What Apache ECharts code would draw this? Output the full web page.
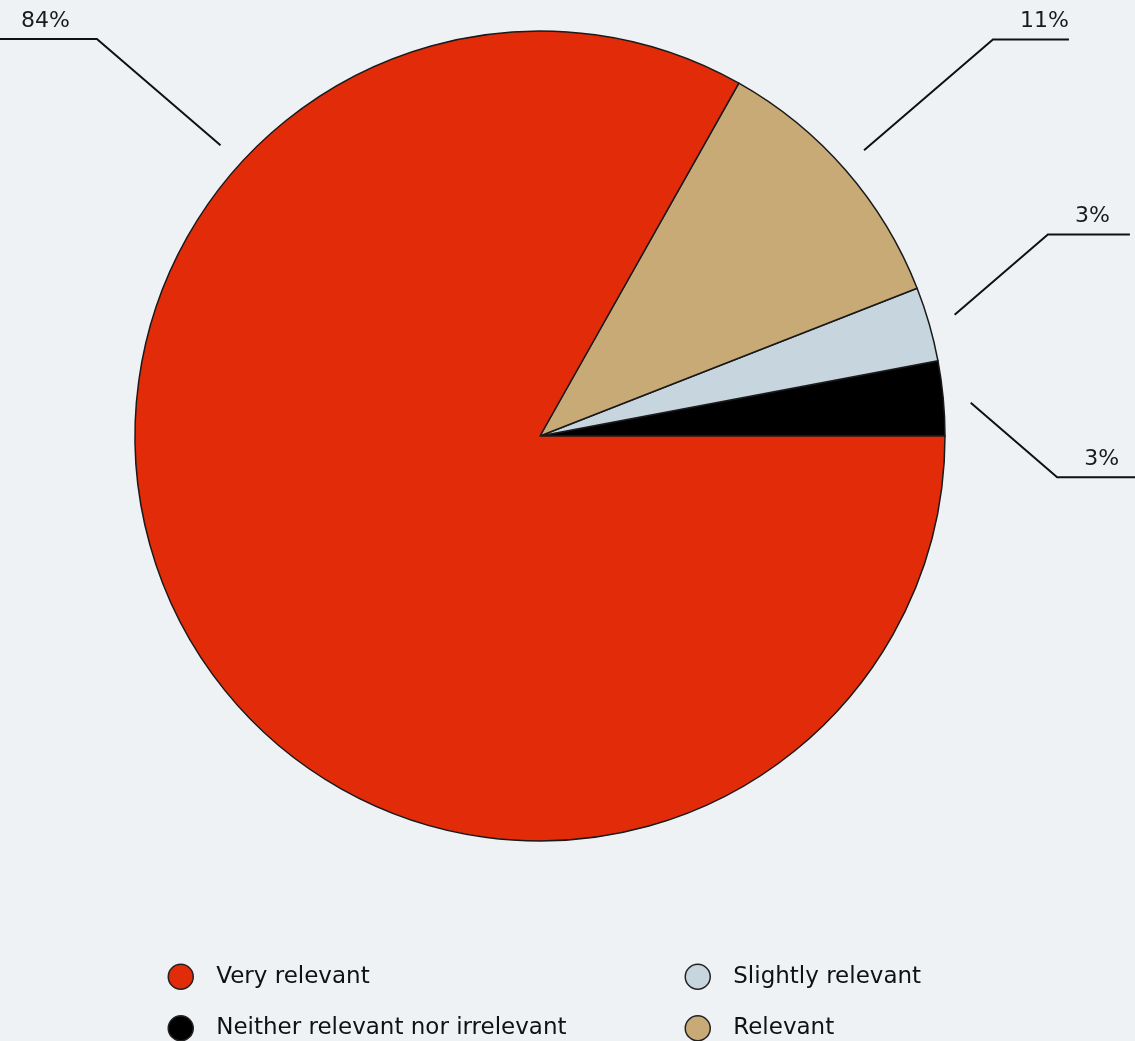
<!DOCTYPE html>
<html><head><meta charset="utf-8">
<script src="https://cdn.jsdelivr.net/npm/echarts@6/dist/echarts.min.js"></script>
<style>html,body{margin:0;padding:0;background:#eef2f5}#c{width:1135px;height:1041px}</style>
</head><body><div id="c"></div>
<script>
// ---- data ----
const categories = ['Neither relevant nor irrelevant', 'Slightly relevant', 'Relevant', 'Very relevant'];
const values = [3, 3, 11, 84];
const colors = ['#000000', '#c7d5de', '#c8aa77', '#e22b09'];
const legendColumn1 = ['Very relevant', 'Neither relevant nor irrelevant'];
const legendColumn2 = ['Slightly relevant', 'Relevant'];

// ---- label leader-line layout (not data) ----
const labelAngles = [4.4, 16.3, 41.4, 137.7];
const labelDirY = [1, -1, -1, -1];
const labelDiag = [114, 123, 170, 163];
const labelHoriz = [78, 82, 76, 98];

const CX = 540, CY = 436, R = 405, RA = 432;
const SLOPE = 40.7 * Math.PI / 180;
const FONT = 'DejaVu Sans, sans-serif';

const chart = echarts.init(document.getElementById('c'), null, {renderer: 'canvas'});

const legendBase = {
  orient: 'vertical', padding: 0, itemWidth: 25, itemHeight: 25, itemGap: 25,
  icon: 'circle', top: 963.5, height: 200,
  itemStyle: {borderColor: '#222', borderWidth: 1.5},
  textStyle: {fontSize: 23, color: '#111', fontFamily: FONT, padding: [0, 0, 0, 18]}
};

chart.setOption({
  backgroundColor: '#eef2f5',
  animation: false,
  legend: [
    Object.assign({}, legendBase, {data: legendColumn1, left: 167.5}),
    Object.assign({}, legendBase, {data: legendColumn2, left: 684.5})
  ],
  series: [{
    type: 'pie',
    center: [CX, CY],
    radius: R,
    startAngle: 0,
    clockwise: false,
    avoidLabelOverlap: false,
    data: categories.map((n, i) => ({name: n, value: values[i], itemStyle: {color: colors[i]}})),
    itemStyle: {borderColor: '#1a1a1a', borderWidth: 1.5},
    label: {show: true, position: 'outside', formatter: '{c}%', fontSize: 22, color: '#1a1a1a', fontFamily: FONT},
    labelLine: {show: true, lineStyle: {color: '#111', width: 2}},
    emphasis: {disabled: true},
    labelLayout: function (p) {
      const i = p.dataIndex;
      const a = labelAngles[i] * Math.PI / 180;
      const sx = CX + RA * Math.cos(a), sy = CY - RA * Math.sin(a);
      const hx = Math.cos(a) >= 0 ? 1 : -1;
      const ex = sx + hx * labelDiag[i] * Math.cos(SLOPE);
      const ey = sy + labelDirY[i] * labelDiag[i] * Math.sin(SLOPE);
      return {
        x: ex + hx * 27, y: ey - 7,
        align: hx > 0 ? 'left' : 'right', verticalAlign: 'bottom',
        labelLinePoints: [[sx, sy], [ex, ey], [ex + hx * labelHoriz[i], ey]]
      };
    }
  }]
});
</script></body></html>
